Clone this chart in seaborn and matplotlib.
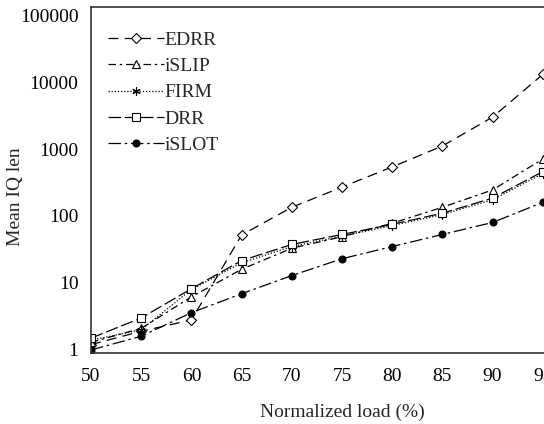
import numpy as np
import pandas as pd
import seaborn as sns
import matplotlib.pyplot as plt
from matplotlib.ticker import NullLocator

# values
load = [50, 55, 60, 65, 70, 75, 80, 85, 90, 95]
edrr = [1.2, 1.9, 2.8, 52, 135, 270, 540, 1110, 3000, 13000]
islip = [1.3, 2.1, 6.2, 16, 33, 49, 78, 135, 245, 710]
firm = [1.4, 2.0, 8.0, 20, 35, 50, 72, 105, 175, 430]
drr = [1.5, 3.0, 8.2, 21.6, 37.6, 53, 75, 110, 185, 460]
islot = [1.0, 1.6, 3.6, 6.9, 12.9, 23, 35, 53, 80, 160]

series = {'EDRR': edrr, 'iSLIP': islip, 'FIRM': firm, 'DRR': drr, 'iSLOT': islot}
y_ticks = [1, 10, 100, 1000, 10000, 100000]

styles = {
    'EDRR':  dict(marker='D', ms=5, mfc='white', ls=(0, (8, 5))),
    'iSLIP': dict(marker='^', ms=6, mfc='white', ls=(0, (6, 3, 2, 3))),
    'FIRM':  dict(marker=(6, 2, 0), ms=6, mfc='black', ls=(0, (1, 1.5))),
    'DRR':   dict(marker='s', ms=6, mfc='white', ls=(0, (10, 3))),
    'iSLOT': dict(marker='o', ms=5, mfc='black', ls=(0, (10, 3, 2, 3))),
}

sns.set_style('white')
plt.rcParams['font.family'] = ['Liberation Serif', 'DejaVu Serif']
plt.rcParams['font.size'] = 14

fig = plt.figure(figsize=(5.44, 4.24), dpi=100)
# x axis extends past the right edge (the picture is cropped at 95)
ax = fig.add_axes([91 / 544, 71 / 424, 502 / 544, 346 / 424])

for name, vals in series.items():
    st = styles[name]
    df = pd.DataFrame({'load': load, 'len': vals})
    sns.lineplot(data=df, x='load', y='len', ax=ax, color='black',
                 marker=st['marker'], markersize=st['ms'],
                 markerfacecolor=st['mfc'], markeredgecolor='black',
                 markeredgewidth=0.8, linestyle=st['ls'], linewidth=0.9,
                 label=name)

ax.set_yscale('log')
ax.set_ylim(0.9, 1.32e5)
ax.set_xlim(50, 100)
ax.set_yticks(y_ticks)
ax.set_yticklabels([str(t) for t in y_ticks])
ax.yaxis.set_minor_locator(NullLocator())
ax.set_xticks(load)
ax.set_xticklabels([str(v) for v in load])

ax.set_xlabel('Normalized load (%)', fontsize=14, labelpad=13)
ax.set_ylabel('Mean IQ len', fontsize=14)
ax.yaxis.set_label_coords((24 - 91) / 502, (353 - 197) / 346)
ax.tick_params(axis='both', direction='in', length=4, width=1,
               colors='#333333', labelcolor='black', labelsize=14)
ax.tick_params(axis='x', pad=11)
ax.tick_params(axis='y', pad=9)
for side in ['left', 'bottom', 'top', 'right']:
    ax.spines[side].set_color('#333333')
    ax.spines[side].set_linewidth(1.2)

ax.legend(loc='upper left', bbox_to_anchor=(108 / 544, 1 - 31 / 424),
          bbox_transform=fig.transFigure, frameon=False, fontsize=14,
          handlelength=2.9, handletextpad=0.0, labelspacing=0.45,
          borderpad=0, borderaxespad=0)

fig.savefig('out.png', dpi=100)
